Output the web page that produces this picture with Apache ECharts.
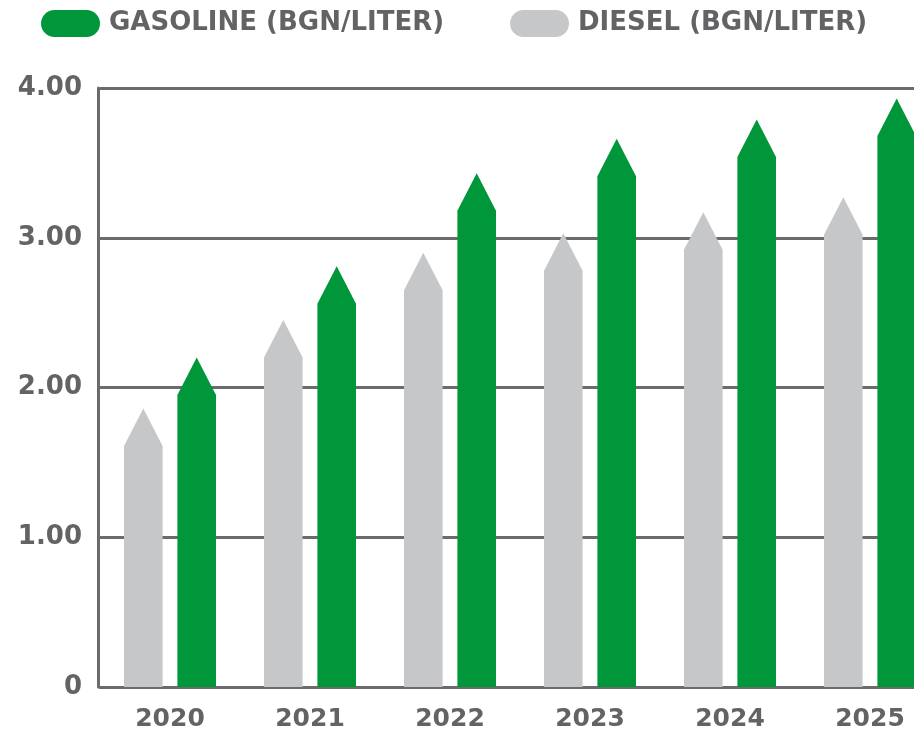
<!DOCTYPE html>
<html>
<head>
<meta charset="utf-8">
<script src="https://cdn.jsdelivr.net/npm/echarts@6/dist/echarts.min.js"></script>
<style>
html,body{margin:0;padding:0;background:#fff;overflow:hidden;}
#chart{width:940px;height:732px;}
</style>
</head>
<body>
<div id="chart"></div>
<script>
const years = ['2020', '2021', '2022', '2023', '2024', '2025'];
const diesel = [1.61, 2.20, 2.65, 2.78, 2.92, 3.02];
const gasoline = [1.95, 2.56, 3.18, 3.41, 3.54, 3.68];
const yTicks = [0, 1, 2, 3, 4];
const seriesNames = ['DIESEL (BGN/LITER)', 'GASOLINE (BGN/LITER)'];

const GREEN = '#00963a';
const GREY = '#c6c7c9';
const TEXT = '#636366';
const LINE = '#6b6b6e';
const FONT = '"DejaVu Sans", sans-serif';

const BAR_W = 38.6;
const HEAD = 37.5;
const OFFSET = 26.7;

function arrowRender(offset, color) {
  return function (params, api) {
    const base = api.coord([api.value(0), 0]);
    const top = api.coord([api.value(0), api.value(1)]);
    const cx = base[0] + offset;
    const l = cx - BAR_W / 2, r = cx + BAR_W / 2;
    return {
      type: 'polygon',
      shape: {
        points: [[l, base[1]], [l, top[1]], [cx, top[1] - HEAD], [r, top[1]], [r, base[1]]]
      },
      style: { fill: color }
    };
  };
}

const chart = echarts.init(document.getElementById('chart'), null, { renderer: 'canvas' });
chart.setOption({
  animation: false,
  backgroundColor: '#fff',
  legend: {
    left: 36,
    top: 5,
    itemWidth: 59,
    itemHeight: 27,
    itemGap: 66,
    icon: 'path://M13.5,0 L45.5,0 A13.5,13.5 0 0 1 45.5,27 L13.5,27 A13.5,13.5 0 0 1 13.5,0 Z',
    data: [seriesNames[1], seriesNames[0]],
    textStyle: { color: TEXT, fontFamily: FONT, fontWeight: 'bold', fontSize: 26, padding: [0, 0, 0, 4] }
  },
  grid: { left: 100, right: 0, top: 88, bottom: 44.5, containLabel: false },
  xAxis: {
    type: 'category',
    data: years,
    axisLine: { lineStyle: { color: LINE, width: 3 } },
    axisTick: { show: false },
    axisLabel: { color: TEXT, fontFamily: FONT, fontWeight: 'bold', fontSize: 25, margin: 20 }
  },
  yAxis: {
    type: 'value',
    min: 0,
    max: yTicks[yTicks.length - 1],
    interval: 1,
    offset: 2,
    axisLine: { show: true, lineStyle: { color: LINE, width: 3 } },
    axisTick: { show: false },
    splitLine: { lineStyle: { color: LINE, width: 3 } },
    axisLabel: {
      color: TEXT, fontFamily: FONT, fontWeight: 'bold', fontSize: 26, margin: 16,
      formatter: v => v === 0 ? '0' : v.toFixed(2)
    }
  },
  series: [
    {
      name: seriesNames[0],
      type: 'custom',
      itemStyle: { color: GREY },
      encode: { x: 0, y: 1 },
      clip: false,
      renderItem: arrowRender(-OFFSET, GREY),
      data: diesel.map((v, i) => [i, v])
    },
    {
      name: seriesNames[1],
      type: 'custom',
      itemStyle: { color: GREEN },
      encode: { x: 0, y: 1 },
      clip: false,
      renderItem: arrowRender(OFFSET, GREEN),
      data: gasoline.map((v, i) => [i, v])
    }
  ]
});
</script>
</body>
</html>
